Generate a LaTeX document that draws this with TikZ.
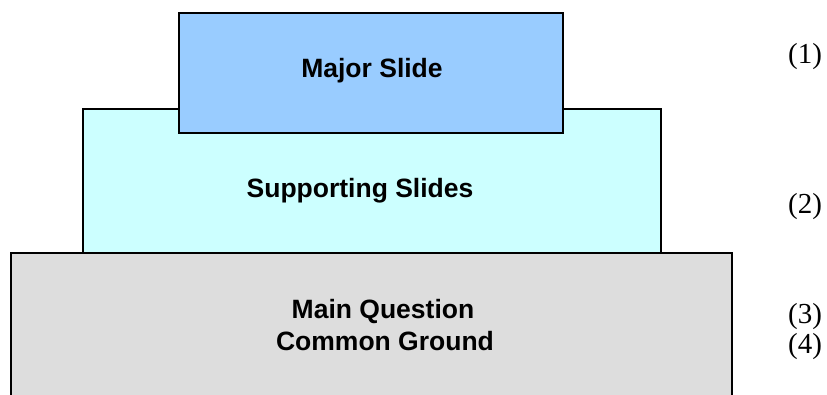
\documentclass[tikz,border=0pt]{standalone}
\usepackage{fontspec}
\setmainfont{Liberation Serif}
\setsansfont{Liberation Sans}
\definecolor{majorfill}{HTML}{99CCFF}
\definecolor{supportfill}{HTML}{CCFFFF}
\definecolor{groundfill}{HTML}{DDDDDD}
\begin{document}
\begin{tikzpicture}[x=1pt,y=1pt,
  tier/.style={draw=black, line width=1.5pt, inner sep=0pt, outer sep=0pt},
  tiertext/.style={font=\sffamily\bfseries\fontsize{26.5}{32}\selectfont, anchor=base, inner sep=0pt},
  levelno/.style={font=\fontsize{29}{29}\selectfont, anchor=base, inner sep=0pt}]
  \useasboundingbox (0,0) rectangle (827,394);
  \clip (0,0) rectangle (827,394);
  % stacked tiers, bottom first
  \draw[tier, fill=groundfill] (11,-20) rectangle (732,141);
  \draw[tier, fill=supportfill] (83,141) rectangle (661,285);
  \draw[tier, fill=majorfill] (179,261) rectangle (563,381);
  % tier labels
  \node[tiertext] (major) at (372,316) {Major Slide};
  \node[tiertext] (support) at (360,196) {Supporting Slides};
  \node[tiertext] (question) at (383,76) {Main Question};
  \node[tiertext] (ground) at (385,44) {Common Ground};
  % level numbers
  \node[levelno] (n1) at (805,330) {(1)};
  \node[levelno] (n2) at (805,180) {(2)};
  \node[levelno] (n3) at (805,71) {(3)};
  \node[levelno] (n4) at (805,41) {(4)};
\end{tikzpicture}
\end{document}
